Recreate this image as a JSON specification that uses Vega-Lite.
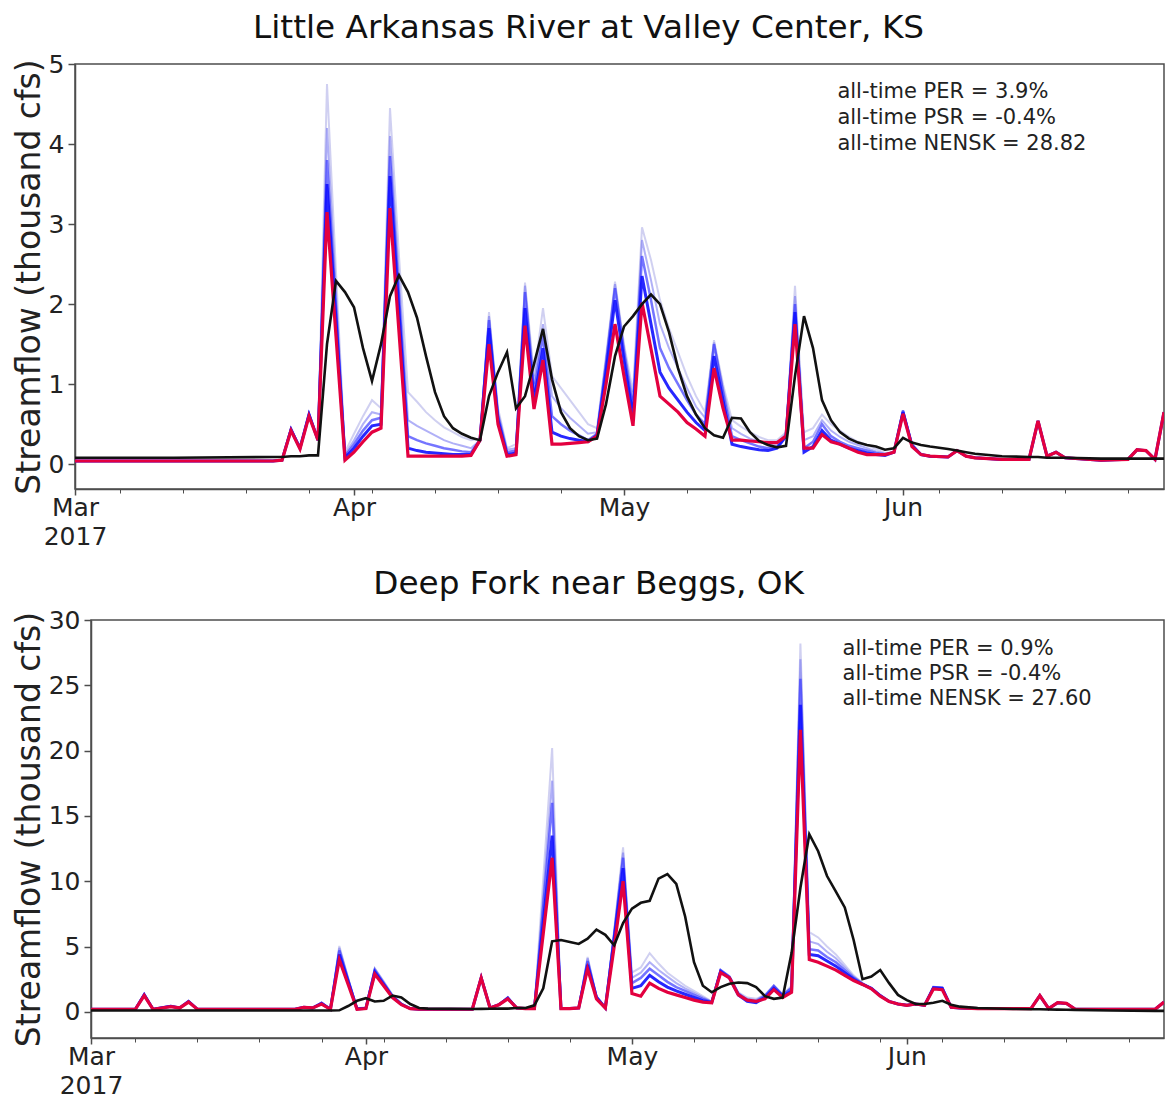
{
"$schema": "https://vega.github.io/schema/vega-lite/v6.json",
"background": "white",
"padding": {"left": 11, "top": 11, "right": 0, "bottom": 0},
"config": {
 "font": "DejaVu Sans",
 "view": {"stroke": "#4d4d4d", "strokeWidth": 1.5},
 "axis": {"domainColor": "#4d4d4d", "domainWidth": 1.5, "tickColor": "#4d4d4d", "tickWidth": 1.5, "labelColor": "#222222", "titleColor": "#222222", "labelFont": "DejaVu Sans", "titleFont": "DejaVu Sans", "grid": false, "labelFontSize": 25, "titleFontSize": 33, "titleFontWeight": "normal"},
 "title": {"font": "DejaVu Sans", "fontSize": 32.7, "fontWeight": "normal", "color": "#111111", "anchor": "middle", "frame": "bounds", "offset": 7}
},
"datasets": {
 "ks": [
  {"d":"2017-03-01","o":0.08,"r":0.04,"a":0.04,"b":0.04,"c":0.04,"e":0.04},
  {"d":"2017-03-12","o":0.08,"r":0.04,"a":0.04,"b":0.04,"c":0.04,"e":0.04},
  {"d":"2017-03-23","o":0.09,"r":0.04,"a":0.04,"b":0.04,"c":0.04,"e":0.04},
  {"d":"2017-03-24","o":0.09,"r":0.05,"a":0.05,"b":0.05,"c":0.05,"e":0.05},
  {"d":"2017-03-25","o":0.1,"r":0.42,"a":0.43,"b":0.44,"c":0.45,"e":0.45},
  {"d":"2017-03-26","o":0.1,"r":0.19,"a":0.2,"b":0.2,"c":0.2,"e":0.2},
  {"d":"2017-03-27","o":0.11,"r":0.6,"a":0.62,"b":0.63,"c":0.63,"e":0.63},
  {"d":"2017-03-28","o":0.11,"r":0.3,"a":0.3,"b":0.3,"c":0.3,"e":0.3},
  {"d":"2017-03-29","o":1.5,"r":3.15,"a":3.5,"b":3.8,"c":4.2,"e":4.75},
  {"d":"2017-03-30","o":2.29,"r":1.6,"a":1.8,"b":1.95,"c":2.15,"e":2.4},
  {"d":"2017-03-31","o":2.15,"r":0.05,"a":0.08,"b":0.1,"c":0.12,"e":0.15},
  {"d":"2017-04-01","o":1.96,"r":0.15,"a":0.2,"b":0.25,"c":0.3,"e":0.38},
  {"d":"2017-04-02","o":1.45,"r":0.28,"a":0.35,"b":0.42,"c":0.5,"e":0.6},
  {"d":"2017-04-03","o":1.04,"r":0.4,"a":0.48,"b":0.55,"c":0.65,"e":0.8},
  {"d":"2017-04-04","o":1.5,"r":0.45,"a":0.5,"b":0.58,"c":0.62,"e":0.7},
  {"d":"2017-04-05","o":2.1,"r":3.2,"a":3.6,"b":3.85,"c":4.1,"e":4.45},
  {"d":"2017-04-06","o":2.36,"r":1.65,"a":1.9,"b":2.1,"c":2.3,"e":2.6},
  {"d":"2017-04-07","o":2.15,"r":0.1,"a":0.2,"b":0.35,"c":0.55,"e":0.9},
  {"d":"2017-04-08","o":1.83,"r":0.1,"a":0.17,"b":0.3,"c":0.48,"e":0.78},
  {"d":"2017-04-09","o":1.35,"r":0.1,"a":0.15,"b":0.26,"c":0.42,"e":0.65},
  {"d":"2017-04-10","o":0.9,"r":0.1,"a":0.14,"b":0.23,"c":0.36,"e":0.55},
  {"d":"2017-04-11","o":0.6,"r":0.1,"a":0.13,"b":0.2,"c":0.3,"e":0.46},
  {"d":"2017-04-12","o":0.45,"r":0.1,"a":0.12,"b":0.18,"c":0.26,"e":0.4},
  {"d":"2017-04-13","o":0.38,"r":0.1,"a":0.12,"b":0.16,"c":0.23,"e":0.34},
  {"d":"2017-04-14","o":0.33,"r":0.11,"a":0.12,"b":0.15,"c":0.2,"e":0.3},
  {"d":"2017-04-15","o":0.3,"r":0.3,"a":0.3,"b":0.3,"c":0.3,"e":0.32},
  {"d":"2017-04-16","o":0.85,"r":1.5,"a":1.7,"b":1.8,"c":1.85,"e":1.9},
  {"d":"2017-04-17","o":1.15,"r":0.5,"a":0.55,"b":0.6,"c":0.65,"e":0.7},
  {"d":"2017-04-18","o":1.4,"r":0.1,"a":0.12,"b":0.15,"c":0.18,"e":0.2},
  {"d":"2017-04-19","o":0.7,"r":0.12,"a":0.14,"b":0.17,"c":0.2,"e":0.25},
  {"d":"2017-04-20","o":0.85,"r":1.73,"a":1.95,"b":2.15,"c":2.23,"e":2.27},
  {"d":"2017-04-21","o":1.25,"r":0.69,"a":0.8,"b":0.9,"c":1.0,"e":1.1},
  {"d":"2017-04-22","o":1.69,"r":1.3,"a":1.45,"b":1.6,"c":1.75,"e":1.95},
  {"d":"2017-04-23","o":1.06,"r":0.25,"a":0.4,"b":0.6,"c":0.85,"e":1.1},
  {"d":"2017-04-24","o":0.65,"r":0.25,"a":0.35,"b":0.5,"c":0.7,"e":0.95},
  {"d":"2017-04-25","o":0.45,"r":0.26,"a":0.32,"b":0.42,"c":0.58,"e":0.8},
  {"d":"2017-04-26","o":0.35,"r":0.27,"a":0.3,"b":0.36,"c":0.48,"e":0.65},
  {"d":"2017-04-27","o":0.3,"r":0.28,"a":0.28,"b":0.3,"c":0.38,"e":0.5},
  {"d":"2017-04-28","o":0.32,"r":0.35,"a":0.36,"b":0.38,"c":0.4,"e":0.45},
  {"d":"2017-04-29","o":0.75,"r":1.0,"a":1.15,"b":1.25,"c":1.3,"e":1.35},
  {"d":"2017-04-30","o":1.35,"r":1.75,"a":2.05,"b":2.2,"c":2.25,"e":2.28},
  {"d":"2017-05-01","o":1.72,"r":1.1,"a":1.3,"b":1.4,"c":1.45,"e":1.5},
  {"d":"2017-05-02","o":1.85,"r":0.48,"a":0.6,"b":0.7,"c":0.8,"e":0.9},
  {"d":"2017-05-03","o":2.0,"r":2.02,"a":2.35,"b":2.6,"c":2.8,"e":2.96},
  {"d":"2017-05-04","o":2.12,"r":1.44,"a":1.75,"b":2.05,"c":2.3,"e":2.55},
  {"d":"2017-05-05","o":2.0,"r":0.85,"a":1.15,"b":1.45,"c":1.75,"e":2.05},
  {"d":"2017-05-06","o":1.65,"r":0.75,"a":0.95,"b":1.2,"c":1.45,"e":1.7},
  {"d":"2017-05-07","o":1.2,"r":0.65,"a":0.8,"b":1.0,"c":1.2,"e":1.4},
  {"d":"2017-05-08","o":0.85,"r":0.52,"a":0.65,"b":0.8,"c":0.95,"e":1.1},
  {"d":"2017-05-09","o":0.62,"r":0.44,"a":0.52,"b":0.62,"c":0.72,"e":0.85},
  {"d":"2017-05-10","o":0.45,"r":0.35,"a":0.42,"b":0.5,"c":0.58,"e":0.65},
  {"d":"2017-05-11","o":0.36,"r":1.2,"a":1.35,"b":1.5,"c":1.52,"e":1.55},
  {"d":"2017-05-12","o":0.33,"r":0.7,"a":0.8,"b":0.9,"c":0.95,"e":1.0},
  {"d":"2017-05-13","o":0.58,"r":0.3,"a":0.25,"b":0.35,"c":0.45,"e":0.55},
  {"d":"2017-05-14","o":0.57,"r":0.3,"a":0.22,"b":0.3,"c":0.38,"e":0.47},
  {"d":"2017-05-15","o":0.4,"r":0.29,"a":0.2,"b":0.26,"c":0.32,"e":0.4},
  {"d":"2017-05-16","o":0.29,"r":0.28,"a":0.18,"b":0.22,"c":0.28,"e":0.34},
  {"d":"2017-05-17","o":0.24,"r":0.27,"a":0.17,"b":0.2,"c":0.25,"e":0.3},
  {"d":"2017-05-18","o":0.21,"r":0.27,"a":0.2,"b":0.22,"c":0.26,"e":0.3},
  {"d":"2017-05-19","o":0.23,"r":0.35,"a":0.35,"b":0.35,"c":0.38,"e":0.4},
  {"d":"2017-05-20","o":1.1,"r":1.75,"a":1.9,"b":2.0,"c":2.1,"e":2.23},
  {"d":"2017-05-21","o":1.85,"r":0.2,"a":0.15,"b":0.2,"c":0.3,"e":0.4},
  {"d":"2017-05-22","o":1.45,"r":0.2,"a":0.22,"b":0.28,"c":0.35,"e":0.45},
  {"d":"2017-05-23","o":0.8,"r":0.37,"a":0.42,"b":0.5,"c":0.55,"e":0.62},
  {"d":"2017-05-24","o":0.55,"r":0.28,"a":0.3,"b":0.35,"c":0.42,"e":0.5},
  {"d":"2017-05-25","o":0.4,"r":0.25,"a":0.25,"b":0.28,"c":0.34,"e":0.42},
  {"d":"2017-05-26","o":0.32,"r":0.2,"a":0.2,"b":0.23,"c":0.28,"e":0.34},
  {"d":"2017-05-27","o":0.27,"r":0.15,"a":0.17,"b":0.2,"c":0.24,"e":0.28},
  {"d":"2017-05-28","o":0.24,"r":0.12,"a":0.14,"b":0.17,"c":0.2,"e":0.24},
  {"d":"2017-05-29","o":0.22,"r":0.12,"a":0.12,"b":0.14,"c":0.16,"e":0.19},
  {"d":"2017-05-30","o":0.18,"r":0.12,"a":0.11,"b":0.12,"c":0.13,"e":0.14},
  {"d":"2017-05-31","o":0.2,"r":0.15,"a":0.15,"b":0.15,"c":0.15,"e":0.15},
  {"d":"2017-06-01","o":0.33,"r":0.63,"a":0.65,"b":0.67,"c":0.67,"e":0.67},
  {"d":"2017-06-02","o":0.27,"r":0.22,"a":0.23,"b":0.24,"c":0.25,"e":0.26},
  {"d":"2017-06-03","o":0.24,"r":0.12,"a":0.12,"b":0.12,"c":0.12,"e":0.12},
  {"d":"2017-06-04","o":0.22,"r":0.1,"a":0.1,"b":0.1,"c":0.1,"e":0.1},
  {"d":"2017-06-06","o":0.19,"r":0.09,"a":0.09,"b":0.09,"c":0.09,"e":0.09},
  {"d":"2017-06-07","o":0.17,"r":0.17,"a":0.17,"b":0.17,"c":0.17,"e":0.17},
  {"d":"2017-06-08","o":0.15,"r":0.1,"a":0.1,"b":0.1,"c":0.1,"e":0.1},
  {"d":"2017-06-09","o":0.13,"r":0.08,"a":0.08,"b":0.08,"c":0.08,"e":0.08},
  {"d":"2017-06-12","o":0.1,"r":0.06,"a":0.06,"b":0.06,"c":0.06,"e":0.06},
  {"d":"2017-06-15","o":0.09,"r":0.06,"a":0.06,"b":0.06,"c":0.06,"e":0.06},
  {"d":"2017-06-16","o":0.09,"r":0.54,"a":0.54,"b":0.54,"c":0.54,"e":0.54},
  {"d":"2017-06-17","o":0.08,"r":0.1,"a":0.1,"b":0.1,"c":0.1,"e":0.1},
  {"d":"2017-06-18","o":0.08,"r":0.15,"a":0.15,"b":0.15,"c":0.15,"e":0.15},
  {"d":"2017-06-19","o":0.08,"r":0.08,"a":0.08,"b":0.08,"c":0.08,"e":0.08},
  {"d":"2017-06-23","o":0.07,"r":0.05,"a":0.05,"b":0.05,"c":0.05,"e":0.05},
  {"d":"2017-06-26","o":0.07,"r":0.06,"a":0.06,"b":0.06,"c":0.06,"e":0.06},
  {"d":"2017-06-27","o":0.07,"r":0.18,"a":0.18,"b":0.18,"c":0.18,"e":0.18},
  {"d":"2017-06-28","o":0.07,"r":0.17,"a":0.17,"b":0.17,"c":0.17,"e":0.17},
  {"d":"2017-06-29","o":0.07,"r":0.06,"a":0.06,"b":0.06,"c":0.06,"e":0.06},
  {"d":"2017-06-30","o":0.07,"r":0.65,"a":0.65,"b":0.65,"c":0.65,"e":0.65}
 ],
 "ok": [
  {"d":"2017-03-01","o":0.1,"r":0.2,"a":0.2,"b":0.2,"c":0.2,"e":0.2},
  {"d":"2017-03-06","o":0.1,"r":0.2,"a":0.2,"b":0.2,"c":0.2,"e":0.2},
  {"d":"2017-03-07","o":0.1,"r":1.25,"a":1.3,"b":1.35,"c":1.35,"e":1.35},
  {"d":"2017-03-08","o":0.1,"r":0.2,"a":0.2,"b":0.2,"c":0.2,"e":0.2},
  {"d":"2017-03-10","o":0.1,"r":0.4,"a":0.42,"b":0.44,"c":0.44,"e":0.44},
  {"d":"2017-03-11","o":0.1,"r":0.3,"a":0.3,"b":0.3,"c":0.3,"e":0.3},
  {"d":"2017-03-12","o":0.1,"r":0.75,"a":0.8,"b":0.8,"c":0.8,"e":0.8},
  {"d":"2017-03-13","o":0.1,"r":0.2,"a":0.2,"b":0.2,"c":0.2,"e":0.2},
  {"d":"2017-03-24","o":0.1,"r":0.2,"a":0.2,"b":0.2,"c":0.2,"e":0.2},
  {"d":"2017-03-25","o":0.1,"r":0.35,"a":0.35,"b":0.35,"c":0.35,"e":0.35},
  {"d":"2017-03-26","o":0.1,"r":0.3,"a":0.3,"b":0.3,"c":0.3,"e":0.3},
  {"d":"2017-03-27","o":0.1,"r":0.6,"a":0.65,"b":0.7,"c":0.7,"e":0.7},
  {"d":"2017-03-28","o":0.1,"r":0.2,"a":0.2,"b":0.2,"c":0.2,"e":0.2},
  {"d":"2017-03-29","o":0.12,"r":4.0,"a":4.4,"b":4.7,"c":4.9,"e":5.05},
  {"d":"2017-03-30","o":0.45,"r":2.1,"a":2.3,"b":2.45,"c":2.55,"e":2.6},
  {"d":"2017-03-31","o":0.85,"r":0.2,"a":0.22,"b":0.24,"c":0.26,"e":0.28},
  {"d":"2017-04-01","o":1.05,"r":0.25,"a":0.27,"b":0.3,"c":0.32,"e":0.35},
  {"d":"2017-04-02","o":0.8,"r":2.9,"a":3.05,"b":3.2,"c":3.3,"e":3.35},
  {"d":"2017-04-03","o":0.85,"r":2.0,"a":2.1,"b":2.2,"c":2.3,"e":2.35},
  {"d":"2017-04-04","o":1.25,"r":1.1,"a":1.15,"b":1.2,"c":1.25,"e":1.3},
  {"d":"2017-04-05","o":1.1,"r":0.55,"a":0.58,"b":0.6,"c":0.62,"e":0.65},
  {"d":"2017-04-06","o":0.6,"r":0.25,"a":0.25,"b":0.25,"c":0.25,"e":0.25},
  {"d":"2017-04-07","o":0.3,"r":0.2,"a":0.2,"b":0.2,"c":0.2,"e":0.2},
  {"d":"2017-04-08","o":0.25,"r":0.2,"a":0.2,"b":0.2,"c":0.2,"e":0.2},
  {"d":"2017-04-13","o":0.22,"r":0.2,"a":0.2,"b":0.2,"c":0.2,"e":0.2},
  {"d":"2017-04-14","o":0.23,"r":2.6,"a":2.6,"b":2.65,"c":2.65,"e":2.65},
  {"d":"2017-04-15","o":0.24,"r":0.3,"a":0.3,"b":0.3,"c":0.3,"e":0.3},
  {"d":"2017-04-16","o":0.25,"r":0.55,"a":0.55,"b":0.55,"c":0.55,"e":0.55},
  {"d":"2017-04-17","o":0.25,"r":1.0,"a":1.05,"b":1.1,"c":1.1,"e":1.1},
  {"d":"2017-04-18","o":0.3,"r":0.3,"a":0.3,"b":0.3,"c":0.3,"e":0.3},
  {"d":"2017-04-19","o":0.3,"r":0.25,"a":0.25,"b":0.25,"c":0.25,"e":0.25},
  {"d":"2017-04-20","o":0.5,"r":0.25,"a":0.25,"b":0.25,"c":0.25,"e":0.25},
  {"d":"2017-04-21","o":1.8,"r":6.0,"a":6.9,"b":8.1,"c":8.9,"e":10.2},
  {"d":"2017-04-22","o":5.4,"r":11.8,"a":13.5,"b":16.0,"c":17.7,"e":20.2},
  {"d":"2017-04-23","o":5.5,"r":0.25,"a":0.27,"b":0.28,"c":0.3,"e":0.3},
  {"d":"2017-04-24","o":5.35,"r":0.25,"a":0.25,"b":0.25,"c":0.25,"e":0.25},
  {"d":"2017-04-25","o":5.2,"r":0.3,"a":0.3,"b":0.3,"c":0.3,"e":0.3},
  {"d":"2017-04-26","o":5.6,"r":3.3,"a":3.6,"b":3.9,"c":4.1,"e":4.2},
  {"d":"2017-04-27","o":6.3,"r":1.0,"a":1.1,"b":1.15,"c":1.2,"e":1.2},
  {"d":"2017-04-28","o":5.9,"r":0.3,"a":0.3,"b":0.32,"c":0.33,"e":0.35},
  {"d":"2017-04-29","o":5.1,"r":5.0,"a":5.6,"b":5.9,"c":6.1,"e":6.3},
  {"d":"2017-04-30","o":6.8,"r":10.0,"a":11.0,"b":11.8,"c":12.2,"e":12.6},
  {"d":"2017-05-01","o":7.9,"r":1.4,"a":1.8,"b":2.2,"c":2.6,"e":3.0},
  {"d":"2017-05-02","o":8.35,"r":1.2,"a":2.0,"b":2.6,"c":3.0,"e":3.4},
  {"d":"2017-05-03","o":8.5,"r":2.2,"a":2.8,"b":3.3,"c":3.8,"e":4.5},
  {"d":"2017-05-04","o":10.2,"r":1.8,"a":2.3,"b":2.8,"c":3.2,"e":3.7},
  {"d":"2017-05-05","o":10.55,"r":1.5,"a":1.9,"b":2.3,"c":2.7,"e":3.0},
  {"d":"2017-05-06","o":9.8,"r":1.3,"a":1.6,"b":1.9,"c":2.2,"e":2.5},
  {"d":"2017-05-07","o":7.3,"r":1.1,"a":1.35,"b":1.6,"c":1.8,"e":2.0},
  {"d":"2017-05-08","o":3.8,"r":0.9,"a":1.1,"b":1.3,"c":1.45,"e":1.6},
  {"d":"2017-05-09","o":2.0,"r":0.75,"a":0.85,"b":1.0,"c":1.1,"e":1.2},
  {"d":"2017-05-10","o":1.5,"r":0.7,"a":0.72,"b":0.75,"c":0.78,"e":0.8},
  {"d":"2017-05-11","o":1.9,"r":3.0,"a":3.1,"b":3.2,"c":3.2,"e":3.2},
  {"d":"2017-05-12","o":2.15,"r":2.6,"a":2.6,"b":2.7,"c":2.7,"e":2.7},
  {"d":"2017-05-13","o":2.25,"r":1.3,"a":1.3,"b":1.4,"c":1.4,"e":1.5},
  {"d":"2017-05-14","o":2.2,"r":0.9,"a":0.8,"b":0.9,"c":1.0,"e":1.1},
  {"d":"2017-05-15","o":1.9,"r":0.8,"a":0.7,"b":0.8,"c":0.9,"e":1.0},
  {"d":"2017-05-16","o":1.2,"r":1.0,"a":1.1,"b":1.2,"c":1.3,"e":1.3},
  {"d":"2017-05-17","o":1.0,"r":1.7,"a":1.8,"b":2.0,"c":2.0,"e":2.0},
  {"d":"2017-05-18","o":1.1,"r":1.1,"a":1.2,"b":1.3,"c":1.3,"e":1.3},
  {"d":"2017-05-19","o":4.5,"r":1.5,"a":1.6,"b":1.8,"c":1.9,"e":2.0},
  {"d":"2017-05-20","o":9.5,"r":21.6,"a":23.5,"b":25.5,"c":27.0,"e":28.2},
  {"d":"2017-05-21","o":13.6,"r":4.0,"a":4.4,"b":4.8,"c":5.4,"e":6.1},
  {"d":"2017-05-22","o":12.3,"r":3.8,"a":4.3,"b":4.7,"c":5.2,"e":5.7},
  {"d":"2017-05-23","o":10.4,"r":3.5,"a":3.9,"b":4.2,"c":4.6,"e":5.0},
  {"d":"2017-05-24","o":9.2,"r":3.2,"a":3.5,"b":3.8,"c":4.1,"e":4.4},
  {"d":"2017-05-25","o":8.0,"r":2.8,"a":3.0,"b":3.2,"c":3.4,"e":3.6},
  {"d":"2017-05-26","o":5.5,"r":2.4,"a":2.5,"b":2.6,"c":2.7,"e":2.8},
  {"d":"2017-05-27","o":2.5,"r":2.1,"a":2.1,"b":2.15,"c":2.2,"e":2.2},
  {"d":"2017-05-28","o":2.7,"r":1.76,"a":1.8,"b":1.8,"c":1.8,"e":1.8},
  {"d":"2017-05-29","o":3.2,"r":1.2,"a":1.25,"b":1.25,"c":1.25,"e":1.25},
  {"d":"2017-05-30","o":2.2,"r":0.8,"a":0.8,"b":0.8,"c":0.8,"e":0.8},
  {"d":"2017-05-31","o":1.3,"r":0.6,"a":0.6,"b":0.6,"c":0.6,"e":0.6},
  {"d":"2017-06-01","o":0.9,"r":0.5,"a":0.5,"b":0.5,"c":0.5,"e":0.5},
  {"d":"2017-06-02","o":0.6,"r":0.6,"a":0.6,"b":0.6,"c":0.6,"e":0.6},
  {"d":"2017-06-03","o":0.6,"r":0.5,"a":0.5,"b":0.5,"c":0.5,"e":0.5},
  {"d":"2017-06-04","o":0.7,"r":1.75,"a":1.85,"b":1.9,"c":1.9,"e":1.9},
  {"d":"2017-06-05","o":0.85,"r":1.7,"a":1.8,"b":1.85,"c":1.85,"e":1.85},
  {"d":"2017-06-06","o":0.55,"r":0.35,"a":0.35,"b":0.35,"c":0.35,"e":0.35},
  {"d":"2017-06-07","o":0.4,"r":0.3,"a":0.3,"b":0.3,"c":0.3,"e":0.3},
  {"d":"2017-06-09","o":0.3,"r":0.25,"a":0.25,"b":0.25,"c":0.25,"e":0.25},
  {"d":"2017-06-13","o":0.22,"r":0.25,"a":0.25,"b":0.25,"c":0.25,"e":0.25},
  {"d":"2017-06-15","o":0.2,"r":0.25,"a":0.25,"b":0.25,"c":0.25,"e":0.25},
  {"d":"2017-06-16","o":0.2,"r":1.25,"a":1.25,"b":1.25,"c":1.25,"e":1.25},
  {"d":"2017-06-17","o":0.18,"r":0.25,"a":0.25,"b":0.25,"c":0.25,"e":0.25},
  {"d":"2017-06-18","o":0.17,"r":0.7,"a":0.7,"b":0.7,"c":0.7,"e":0.7},
  {"d":"2017-06-19","o":0.16,"r":0.65,"a":0.65,"b":0.65,"c":0.65,"e":0.65},
  {"d":"2017-06-20","o":0.15,"r":0.2,"a":0.2,"b":0.2,"c":0.2,"e":0.2},
  {"d":"2017-06-24","o":0.1,"r":0.2,"a":0.2,"b":0.2,"c":0.2,"e":0.2},
  {"d":"2017-06-29","o":0.08,"r":0.2,"a":0.2,"b":0.2,"c":0.2,"e":0.2},
  {"d":"2017-06-30","o":0.08,"r":0.75,"a":0.75,"b":0.75,"c":0.75,"e":0.75}
 ],
 "kst": [
  {"d":"2017-05-24T17:00:00Z","v":4.65,"t":"all-time PER = 3.9%"},
  {"d":"2017-05-24T17:00:00Z","v":4.325,"t":"all-time PSR = -0.4%"},
  {"d":"2017-05-24T17:00:00Z","v":4.0,"t":"all-time NENSK = 28.82"}
 ],
 "okt": [
  {"d":"2017-05-24T18:00:00Z","v":27.77,"t":"all-time PER = 0.9%"},
  {"d":"2017-05-24T18:00:00Z","v":25.87,"t":"all-time PSR = -0.4%"},
  {"d":"2017-05-24T18:00:00Z","v":23.97,"t":"all-time NENSK = 27.60"}
 ],
 "sp": [{"t": ""}]
},
"spacing": 17,
"vconcat": [
 {"spacing": 0, "hconcat": [
 {"width": 1, "height": 1, "data": {"name": "sp"}, "mark": {"type": "text"}, "encoding": {"text": {"field": "t"}}, "view": {"stroke": null}},
 {
  "title": {"text": "Little Arkansas River at Valley Center, KS"},
  "width": 1089, "height": 425,
  "data": {"name": "ks"},
  "resolve": {"axis": {"x": "independent"}},
  "layer": [
   {"mark": {"type": "line", "color": "#b0b0e8", "strokeWidth": 2, "opacity": 0.6, "clip": true},
    "encoding": {"x": {"field": "d", "type": "temporal", "scale": {"type": "utc", "domain": [1488326400000, 1498780800000]}, "axis": null},
                 "y": {"field": "e", "type": "quantitative", "scale": {"domain": [-0.31, 5], "nice": false, "zero": false}, "axis": {"title": "Streamflow (thousand cfs)", "values": [0,1,2,3,4,5], "tickSize": 7, "labelPadding": 4, "titlePadding": 2}}}},
   {"mark": {"type": "line", "color": "#7070f0", "strokeWidth": 2, "opacity": 0.55, "clip": true},
    "encoding": {"x": {"field": "d", "type": "temporal", "axis": null},
                 "y": {"field": "c", "type": "quantitative", "axis": {"title": "Streamflow (thousand cfs)", "values": [0,1,2,3,4,5], "tickSize": 7, "labelPadding": 4, "titlePadding": 2}}}},
   {"mark": {"type": "line", "color": "#3a3aff", "strokeWidth": 2.5, "opacity": 0.7, "clip": true},
    "encoding": {"x": {"field": "d", "type": "temporal", "axis": null},
                 "y": {"field": "b", "type": "quantitative", "axis": {"title": "Streamflow (thousand cfs)", "values": [0,1,2,3,4,5], "tickSize": 7, "labelPadding": 4, "titlePadding": 2}}}},
   {"mark": {"type": "line", "color": "#1010ff", "strokeWidth": 3, "opacity": 0.9, "clip": true},
    "encoding": {"x": {"field": "d", "type": "temporal", "axis": null},
                 "y": {"field": "a", "type": "quantitative", "axis": {"title": "Streamflow (thousand cfs)", "values": [0,1,2,3,4,5], "tickSize": 7, "labelPadding": 4, "titlePadding": 2}}}},
   {"mark": {"type": "line", "color": "#e3003f", "strokeWidth": 3.2, "clip": true},
    "encoding": {"x": {"field": "d", "type": "temporal", "axis": {"orient": "bottom", "values": [1488758400000,1489363200000,1489968000000,1490572800000,1491177600000,1491782400000,1492387200000,1492992000000,1494201600000,1494806400000,1495411200000,1496016000000,1496620800000,1497225600000,1497830400000,1498435200000], "labels": false, "domain": false, "tickSize": 4, "tickWidth": 1, "title": null}},
                 "y": {"field": "r", "type": "quantitative", "axis": {"title": "Streamflow (thousand cfs)", "values": [0,1,2,3,4,5], "tickSize": 7, "labelPadding": 4, "titlePadding": 2}}}},
   {"mark": {"type": "line", "color": "#111111", "strokeWidth": 2.6, "clip": true},
    "encoding": {"x": {"field": "d", "type": "temporal", "axis": {"orient": "bottom", "values": [1488326400000,1491004800000,1493596800000,1496275200000], "labelExpr": "utcmonth(datum.value) == 2 ? ['Mar', '2017'] : utcFormat(datum.value, '%b')", "labelFlush": false, "labelOverlap": false, "labelBound": false, "tickSize": 6, "labelPadding": 0, "labelLineHeight": 29, "title": null}},
                 "y": {"field": "o", "type": "quantitative", "axis": {"title": "Streamflow (thousand cfs)", "values": [0,1,2,3,4,5], "tickSize": 7, "labelPadding": 4, "titlePadding": 2}}}},
   {"data": {"name": "kst"},
    "mark": {"type": "text", "align": "left", "baseline": "middle", "fontSize": 21, "color": "#222222", "font": "DejaVu Sans"},
    "encoding": {"x": {"field": "d", "type": "temporal", "axis": null},
                 "y": {"field": "v", "type": "quantitative", "axis": {"title": "Streamflow (thousand cfs)", "values": [0,1,2,3,4,5], "tickSize": 7, "labelPadding": 4, "titlePadding": 2}},
                 "text": {"field": "t"}}}
  ]
 }]},
 {"spacing": 0, "hconcat": [
 {"width": 1, "height": 1, "data": {"name": "sp"}, "mark": {"type": "text"}, "encoding": {"text": {"field": "t"}}, "view": {"stroke": null}},
 {
  "title": {"text": "Deep Fork near Beggs, OK"},
  "width": 1073, "height": 418,
  "data": {"name": "ok"},
  "resolve": {"axis": {"x": "independent"}},
  "layer": [
   {"mark": {"type": "line", "color": "#b0b0e8", "strokeWidth": 2, "opacity": 0.6, "clip": true},
    "encoding": {"x": {"field": "d", "type": "temporal", "scale": {"type": "utc", "domain": [1488326400000, 1498780800000]}, "axis": null},
                 "y": {"field": "e", "type": "quantitative", "scale": {"domain": [-2, 30], "nice": false, "zero": false}, "axis": {"title": "Streamflow (thousand cfs)", "values": [0,5,10,15,20,25,30], "tickSize": 7, "labelPadding": 4, "titlePadding": 2}}}},
   {"mark": {"type": "line", "color": "#7070f0", "strokeWidth": 2, "opacity": 0.55, "clip": true},
    "encoding": {"x": {"field": "d", "type": "temporal", "axis": null},
                 "y": {"field": "c", "type": "quantitative", "axis": {"title": "Streamflow (thousand cfs)", "values": [0,5,10,15,20,25,30], "tickSize": 7, "labelPadding": 4, "titlePadding": 2}}}},
   {"mark": {"type": "line", "color": "#3a3aff", "strokeWidth": 2.5, "opacity": 0.7, "clip": true},
    "encoding": {"x": {"field": "d", "type": "temporal", "axis": null},
                 "y": {"field": "b", "type": "quantitative", "axis": {"title": "Streamflow (thousand cfs)", "values": [0,5,10,15,20,25,30], "tickSize": 7, "labelPadding": 4, "titlePadding": 2}}}},
   {"mark": {"type": "line", "color": "#1010ff", "strokeWidth": 3, "opacity": 0.9, "clip": true},
    "encoding": {"x": {"field": "d", "type": "temporal", "axis": null},
                 "y": {"field": "a", "type": "quantitative", "axis": {"title": "Streamflow (thousand cfs)", "values": [0,5,10,15,20,25,30], "tickSize": 7, "labelPadding": 4, "titlePadding": 2}}}},
   {"mark": {"type": "line", "color": "#e3003f", "strokeWidth": 3.2, "clip": true},
    "encoding": {"x": {"field": "d", "type": "temporal", "axis": {"orient": "bottom", "values": [1488758400000,1489363200000,1489968000000,1490572800000,1491177600000,1491782400000,1492387200000,1492992000000,1494201600000,1494806400000,1495411200000,1496016000000,1496620800000,1497225600000,1497830400000,1498435200000], "labels": false, "domain": false, "tickSize": 4, "tickWidth": 1, "title": null}},
                 "y": {"field": "r", "type": "quantitative", "axis": {"title": "Streamflow (thousand cfs)", "values": [0,5,10,15,20,25,30], "tickSize": 7, "labelPadding": 4, "titlePadding": 2}}}},
   {"mark": {"type": "line", "color": "#111111", "strokeWidth": 2.6, "clip": true},
    "encoding": {"x": {"field": "d", "type": "temporal", "axis": {"orient": "bottom", "values": [1488326400000,1491004800000,1493596800000,1496275200000], "labelExpr": "utcmonth(datum.value) == 2 ? ['Mar', '2017'] : utcFormat(datum.value, '%b')", "labelFlush": false, "labelOverlap": false, "labelBound": false, "tickSize": 6, "labelPadding": 0, "labelLineHeight": 29, "title": null}},
                 "y": {"field": "o", "type": "quantitative", "axis": {"title": "Streamflow (thousand cfs)", "values": [0,5,10,15,20,25,30], "tickSize": 7, "labelPadding": 4, "titlePadding": 2}}}},
   {"data": {"name": "okt"},
    "mark": {"type": "text", "align": "left", "baseline": "middle", "fontSize": 21, "color": "#222222", "font": "DejaVu Sans"},
    "encoding": {"x": {"field": "d", "type": "temporal", "axis": null},
                 "y": {"field": "v", "type": "quantitative", "axis": {"title": "Streamflow (thousand cfs)", "values": [0,5,10,15,20,25,30], "tickSize": 7, "labelPadding": 4, "titlePadding": 2}},
                 "text": {"field": "t"}}}
  ]
 }]}
]
}
